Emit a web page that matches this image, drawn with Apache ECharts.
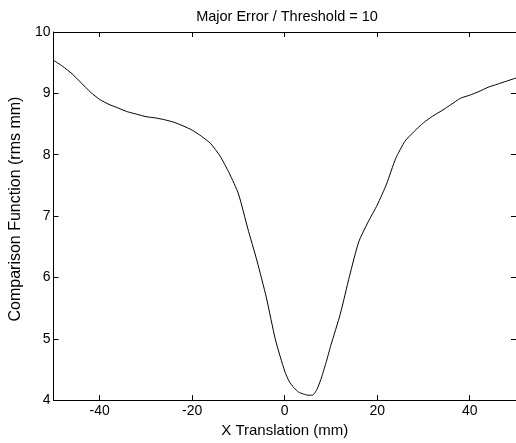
<!DOCTYPE html>
<html><head><meta charset="utf-8">
<script src="https://cdn.jsdelivr.net/npm/echarts@6/dist/echarts.min.js"></script>
<style>html,body{margin:0;padding:0;background:#fff}#c{width:516px;height:443px}</style>
</head><body><div id="c"></div>
<script>
const titleText = "Major Error / Threshold = 10";
const xName = "X Translation (mm)";
const yName = "Comparison Function (rms mm)";
const xTicks = [-40, -20, 0, 20, 40];
const yTicks = [4, 5, 6, 7, 8, 9, 10];
const xs = [-50,-48,-46,-44,-42,-40,-38,-36,-34,-32,-30,-28,-26,-24,-22,-20,-18,-16,-14,-12,-10,-8,-6,-4,-2,0,1,2,3,4,5,6,7,8,9,10,12,14,16,18,20,22,24,26,28,30,32,34,36,38,40,42,44,46,48,50];
const ys = [9.54,9.44,9.32,9.17,9.02,8.9,8.82,8.76,8.7,8.66,8.62,8.6,8.57,8.53,8.47,8.4,8.3,8.18,7.98,7.7,7.36,6.8,6.27,5.68,4.98,4.47,4.3,4.2,4.13,4.1,4.08,4.08,4.18,4.38,4.63,4.9,5.4,6.02,6.58,6.9,7.18,7.52,7.94,8.22,8.38,8.52,8.63,8.72,8.82,8.92,8.97,9.03,9.1,9.15,9.2,9.25];

const font = "Liberation Sans, Arial, sans-serif";
const chart = echarts.init(document.getElementById('c'), null, {renderer:'canvas'});
const axLine = {show:true, onZero:false, lineStyle:{color:'#000', width:1}};
const tick = {show:true, inside:true, length:5, lineStyle:{color:'#000'}};
chart.setOption({
  animation:false,
  backgroundColor:'#fff',
  title:{text:titleText, left:282, top:4, textAlign:'center',
    textStyle:{fontFamily:font, fontSize:14.5, fontWeight:'normal', color:'#000'}},
  grid:{left:46, top:32, right:-3, bottom:39, containLabel:false},
  xAxis:[{type:'value', min:-50, max:50, position:'bottom',
    axisLine:axLine, splitLine:{show:false},
    axisTick:Object.assign({customValues: xTicks}, tick),
    axisLabel:{fontFamily:font, fontSize:14, color:'#000', margin:4, customValues: xTicks},
    name:xName, nameLocation:'middle', nameGap:21,
    nameTextStyle:{fontFamily:font, fontSize:15, color:'#000'}},
   {type:'value', min:-50, max:50, position:'top',
    axisLine:axLine, splitLine:{show:false},
    axisTick:Object.assign({customValues: xTicks}, tick),
    axisLabel:{show:false}}],
  yAxis:[{type:'value', min:4, max:10, interval:1, position:'left',
    axisLine:axLine, splitLine:{show:false},
    axisTick:tick,
    axisLabel:{fontFamily:font, fontSize:14, color:'#000', margin:3},
    name:yName, nameLocation:'middle', nameGap:22, nameRotate:90,
    nameTextStyle:{fontFamily:font, fontSize:16, color:'#000', padding:[0,0,0,14]}},
   {type:'value', min:4, max:10, interval:1, position:'right',
    axisLine:axLine, splitLine:{show:false},
    axisTick:tick,
    axisLabel:{show:false}}],
  series:[{type:'line', data: xs.map((x,i)=>[x, ys[i]]), showSymbol:false, smooth:0.2,
    lineStyle:{color:'#000', width:1}, clip:true}]
});
</script></body></html>
